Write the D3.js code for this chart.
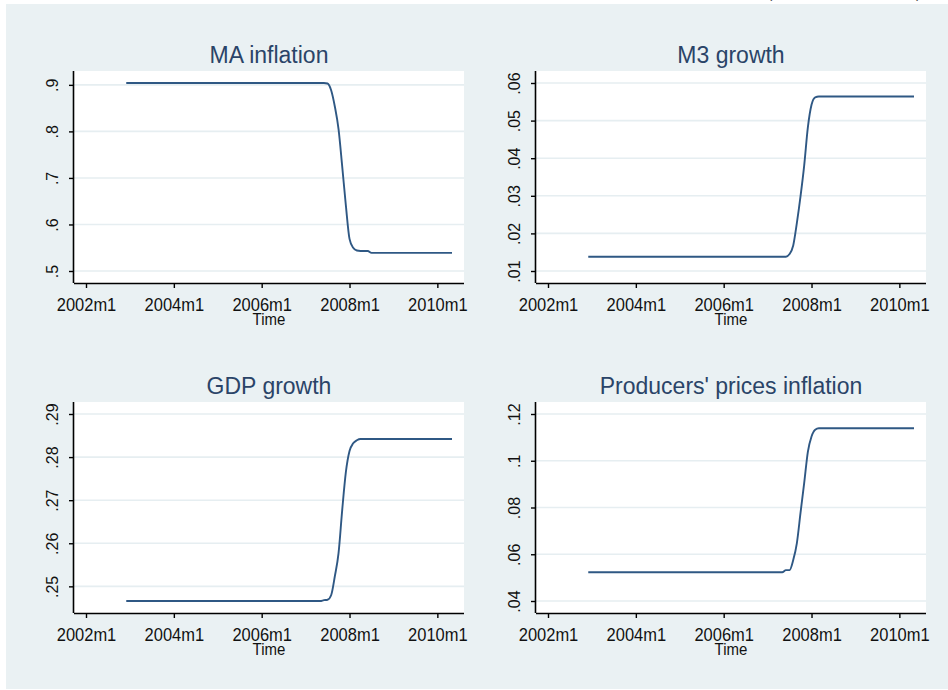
<!DOCTYPE html>
<html>
<head>
<meta charset="utf-8">
<script src="https://cdn.jsdelivr.net/npm/d3@7"></script>
<style>
  html, body { margin: 0; padding: 0; background: #ffffff; }
  svg { display: block; }
  text { font-family: "Liberation Sans", Arial, sans-serif; }
</style>
</head>
<body>
<svg id="chart" width="948" height="690"></svg>
<script>
// ---- data ----
const months = ["2002m12","2007m5","2007m6","2007m7","2007m8","2007m9","2007m10","2007m11","2007m12","2008m1","2008m2","2008m3","2008m4","2008m6","2008m7","2010m5"];
const maInflation = [0.904,0.904,0.904,0.903,0.888,0.853,0.805,0.725,0.641,0.569,0.550,0.544,0.543,0.543,0.539,0.539];
const m3Growth    = [0.0138,0.0138,0.0138,0.0145,0.0168,0.0228,0.0299,0.0381,0.0482,0.0542,0.0562,0.0564,0.0564,0.0564,0.0564,0.0564];
const gdpGrowth   = [0.2466,0.2466,0.2468,0.2469,0.2480,0.2524,0.2577,0.2677,0.2765,0.2814,0.2832,0.2839,0.2842,0.2842,0.2842,0.2842];
const ppiInflation= [0.0523,0.0523,0.0532,0.0532,0.0575,0.0648,0.0778,0.0905,0.1038,0.1104,0.1133,0.1139,0.1139,0.1139,0.1139,0.1139];

const titles = ["MA inflation","M3 growth","GDP growth","Producers' prices inflation"];
const xTickValues = ["2002m1","2004m1","2006m1","2008m1","2010m1"];
const yTicks1 = [0.5,0.6,0.7,0.8,0.9];
const yTicks2 = [0.01,0.02,0.03,0.04,0.05,0.06];
const yTicks3 = [0.25,0.26,0.27,0.28,0.29];
const yTicks4 = [0.04,0.06,0.08,0.1,0.12];
const xTitle = "Time";

// ---- helpers ----
const parseM = s => { const [y,m] = s.split("m").map(Number); return y + (m-1)/12; };
const fmtStata = v => { let s = d3.format("")(+v.toFixed(4)); return s.replace(/^0\./,".").replace(/^-0\./,"-."); };

const svg = d3.select("#chart");
const W = 948, H = 690;
svg.append("rect").attr("x",0).attr("y",0).attr("width",W).attr("height",H).attr("fill","#ffffff");
svg.append("rect").attr("x",6).attr("y",4).attr("width",W-6).attr("height",H-5).attr("fill","#eaf1f3");

// fragments of text cut off at top
svg.append("text").attr("x",768).attr("y",-2).attr("font-size",13).attr("fill","#333").text("(");
svg.append("text").attr("x",916).attr("y",-2).attr("font-size",13).attr("fill","#333").text(")");

const panels = [
  {title: titles[0], vals: maInflation, ticks: yTicks1, box:{l:74,r:464,t:71,b:283}},
  {title: titles[1], vals: m3Growth,    ticks: yTicks2, box:{l:536,r:926,t:71,b:283}},
  {title: titles[2], vals: gdpGrowth,   ticks: yTicks3, box:{l:74,r:464,t:402,b:613}},
  {title: titles[3], vals: ppiInflation,ticks: yTicks4, box:{l:536,r:926,t:402,b:613}}
];

const PAD = 12;
const VS = 1.08; // vertical stretch of the reference text
const lineColor = "#2f5884";

panels.forEach(p => {
  const {l,r,t,b} = p.box;
  const g = svg.append("g");
  const data = months.map((m,i) => ({x: parseM(m), y: p.vals[i]}));
  const xTicksNum = xTickValues.map(parseM);
  const xMin = Math.min(d3.min(xTicksNum), d3.min(data, d=>d.x));
  const xMax = Math.max(d3.max(xTicksNum), d3.max(data, d=>d.x));
  const yMin = Math.min(d3.min(p.ticks), d3.min(data, d=>d.y));
  const yMax = Math.max(d3.max(p.ticks), d3.max(data, d=>d.y));
  const x = d3.scaleLinear().domain([xMin,xMax]).range([l+PAD, r-PAD]);
  const y = d3.scaleLinear().domain([yMin,yMax]).range([b-PAD, t+PAD]);

  // plot region
  g.append("rect").attr("x",l).attr("y",t).attr("width",r-l).attr("height",b-t).attr("fill","#ffffff");

  // gridlines
  g.selectAll(".grid").data(p.ticks).enter().append("line")
    .attr("x1",l).attr("x2",r)
    .attr("y1",d=>y(d)).attr("y2",d=>y(d))
    .attr("stroke","#e6eef1").attr("stroke-width",1.6);

  // line
  const line = d3.line().x(d=>x(d.x)).y(d=>y(d.y)).curve(d3.curveMonotoneX);
  g.append("path").datum(data).attr("d",line)
    .attr("fill","none").attr("stroke",lineColor).attr("stroke-width",1.9);

  // axes
  const xAxis = d3.axisBottom(x).tickValues(xTicksNum).tickSize(5).tickFormat((d,i)=>xTickValues[i]);
  const xg = g.append("g").attr("transform",`translate(0,${b})`).call(xAxis);
  xg.select(".domain").attr("d",`M${l},0.5H${r}`).attr("stroke","#000").attr("stroke-width",1.6);
  xg.selectAll(".tick line").attr("stroke","#000").attr("stroke-width",1.4);
  xg.selectAll(".tick text")
    .attr("y",null).attr("dy",null)
    .attr("text-anchor","middle")
    .attr("transform",`translate(0,27.5) scale(1,${VS})`)
    .attr("font-size",16.5).attr("fill","#111");

  const yAxis = d3.axisLeft(y).tickValues(p.ticks).tickSize(5).tickFormat(fmtStata);
  const yg = g.append("g").attr("transform",`translate(${l},0)`).call(yAxis);
  yg.select(".domain").attr("d",`M-0.5,${t}V${b}`).attr("stroke","#000").attr("stroke-width",1.6);
  yg.selectAll(".tick line").attr("stroke","#000").attr("stroke-width",1.4);
  yg.selectAll(".tick text")
    .attr("x",null).attr("dy",null)
    .attr("text-anchor","middle")
    .attr("transform","translate(-16,0) rotate(-90)")
    .attr("font-size",16).attr("fill","#111");
  g.selectAll(".tick text").attr("font-family",'"Liberation Sans", Arial, sans-serif');

  // titles
  g.append("text")
    .attr("transform",`translate(${(l+r)/2},${t-8.5}) scale(1,${VS})`)
    .attr("text-anchor","middle").attr("font-size",23).attr("fill","#2a4468")
    .text(p.title);
  g.append("text")
    .attr("transform",`translate(${(l+r)/2},${b+42}) scale(1,${VS})`)
    .attr("text-anchor","middle").attr("font-size",15).attr("fill","#111")
    .text(xTitle);
});
</script>
</body>
</html>
